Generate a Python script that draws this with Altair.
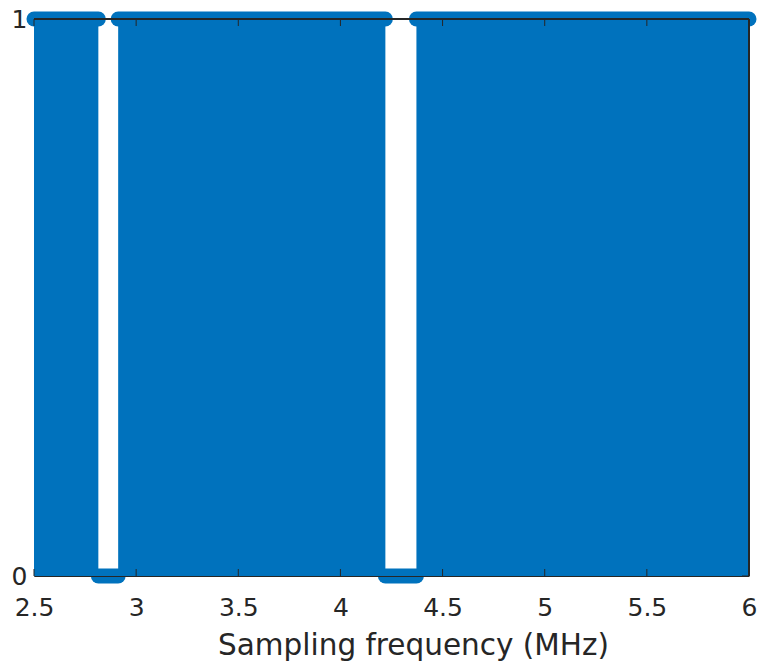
import altair as alt
import pandas as pd

# Piecewise-constant indicator over the sampling frequency (MHz)
seg_start = [2.5, 2.815, 2.912, 4.22, 4.372]
seg_end = [2.815, 2.912, 4.22, 4.372, 6.0]
seg_value = [1, 0, 1, 0, 1]

x_ticks = [2.5, 3.0, 3.5, 4.0, 4.5, 5.0, 5.5, 6.0]
y_ticks = [0, 1]

BLUE = "#0072BD"
INK = "#262626"
W, H = 715, 557
FONT = "DejaVu Sans"

segs = pd.DataFrame({"x": seg_start, "x2": seg_end, "v": seg_value})
xt = pd.DataFrame({"t": x_ticks})
yt = pd.DataFrame({"t": y_ticks})

xscale = alt.Scale(domain=[2.5, 6], nice=False, zero=False)
yscale = alt.Scale(domain=[0, 1], nice=False)

x_axis = alt.Axis(
    values=x_ticks, format="~g", ticks=False, grid=False, domain=True,
    domainColor=INK, labelFont=FONT, labelFontSize=25, labelColor=INK,
    labelPadding=19, title="Sampling frequency (MHz)", titleFont=FONT,
    titleFontSize=29.5, titleFontWeight="normal", titleColor=INK,
    titleBaseline="alphabetic", titleY=78, titleX=379, titleAlign="center",
    zindex=1, labelFlush=False,
)
y_axis = alt.Axis(
    values=y_ticks, format="d", ticks=False, grid=False, domain=True,
    domainColor=INK, labelFont=FONT, labelFontSize=25, labelColor=INK,
    labelPadding=7, title=None, zindex=0, labelBaseline="middle",
)

fill = alt.Chart(segs).mark_rect(color=BLUE).encode(
    x=alt.X("x:Q", scale=xscale, axis=x_axis),
    x2="x2:Q",
    y=alt.Y("v:Q", scale=yscale, axis=y_axis),
    y2=alt.datum(0),
)

line = alt.Chart(segs).mark_rule(color=BLUE, strokeWidth=15, strokeCap="round").encode(
    x=alt.X("x:Q", scale=xscale),
    x2="x2:Q",
    y=alt.Y("v:Q", scale=yscale),
)

# inward tick marks on all four sides
tick_bottom = alt.Chart(xt).mark_rule(color=INK, strokeWidth=1).encode(
    x=alt.X("t:Q", scale=xscale), y=alt.value(H), y2=alt.value(H - 7)
)
tick_top = alt.Chart(xt).mark_rule(color=INK, strokeWidth=1).encode(
    x=alt.X("t:Q", scale=xscale), y=alt.value(0), y2=alt.value(7)
)
tick_right = alt.Chart(yt).mark_rule(color=INK, strokeWidth=1).encode(
    y=alt.Y("t:Q", scale=yscale), x=alt.value(W), x2=alt.value(W - 7)
)

# top and right edges of the axes box
box_top = alt.Chart(xt).mark_rule(color=INK, strokeWidth=1).encode(
    x=alt.value(0), x2=alt.value(W), y=alt.value(0)
)
box_right = alt.Chart(xt).mark_rule(color=INK, strokeWidth=1).encode(
    x=alt.value(W), y=alt.value(0), y2=alt.value(H)
)

chart = (
    alt.layer(fill, line, tick_bottom, tick_top, tick_right, box_top, box_right)
    .properties(
        width=W, height=H,
        autosize=alt.AutoSizeParams(type="none"),
        padding={"left": 34, "top": 19, "right": 9, "bottom": 86},
        background="white",
    )
    .configure_view(stroke=None)
)

chart.save("out.html", embed_options={"renderer": "svg", "actions": False})
